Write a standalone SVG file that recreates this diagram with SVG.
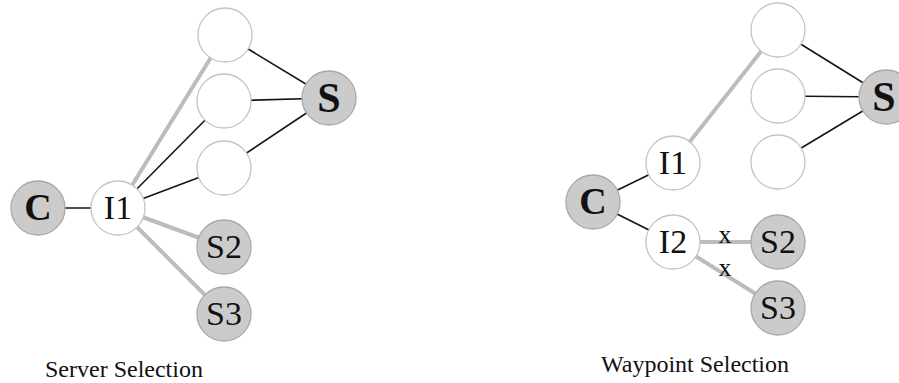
<svg xmlns="http://www.w3.org/2000/svg" width="899" height="383" viewBox="0 0 899 383">
<style>
.w{fill:#fff;stroke:#c4c4c4;stroke-width:1.3}
.g{fill:#cbcbcb;stroke:#a8a8a8;stroke-width:1.3}
.blk{stroke:#151515;stroke-width:1.6;fill:none}
.gry{stroke:#bcbcbc;stroke-width:4;fill:none}
text{font-family:"Liberation Serif","Times New Roman",serif;fill:#111;text-anchor:middle}
.lbl{font-size:34px}
.bS{font-size:42px;font-weight:bold}
.bC{font-size:38px;font-weight:bold}
.cap{font-size:24px;text-anchor:start}
.x{font-size:26px}
</style>
<rect width="899" height="383" fill="#fff"/>
<g id="connectors">
<line class="blk" x1="38" y1="208" x2="118" y2="208"/>
<line class="gry" x1="118" y1="208" x2="218" y2="46"/>
<line class="blk" x1="118" y1="208" x2="224" y2="101"/>
<line class="blk" x1="118" y1="208" x2="224" y2="168"/>
<line class="blk" x1="225" y1="35" x2="329" y2="98"/>
<line class="blk" x1="224" y1="101" x2="329" y2="98"/>
<line class="blk" x1="224" y1="168" x2="329" y2="98"/>
<line class="gry" x1="118" y1="208" x2="224" y2="247"/>
<line class="gry" x1="118" y1="208" x2="224" y2="314"/>
<line class="blk" x1="593" y1="202" x2="673" y2="163"/>
<line class="blk" x1="593" y1="202" x2="673" y2="242"/>
<line class="gry" x1="673" y1="163" x2="770" y2="40"/>
<line class="blk" x1="778" y1="30" x2="886" y2="97"/>
<line class="blk" x1="778" y1="96" x2="886" y2="97"/>
<line class="blk" x1="778" y1="162" x2="886" y2="97"/>
<line class="gry" x1="673" y1="242" x2="778" y2="242"/>
<line class="gry" x1="673" y1="242" x2="778" y2="308"/>
</g>
<g id="left-top"><circle class="w" cx="225" cy="35" r="27"/></g>
<g id="left-mid"><circle class="w" cx="224" cy="101" r="27"/></g>
<g id="left-low"><circle class="w" cx="224" cy="168" r="27"/></g>
<g id="left-S"><circle class="g" cx="329" cy="98" r="27"/><text class="bS" x="329" y="112">S</text></g>
<g id="left-C"><circle class="g" cx="38" cy="208" r="27"/><text class="bC" x="38" y="220">C</text></g>
<g id="left-I1"><circle class="w" cx="118" cy="208" r="27"/><text class="lbl" x="118" y="219">I1</text></g>
<g id="left-S2"><circle class="g" cx="224" cy="247" r="27"/><text class="lbl" x="224" y="258">S2</text></g>
<g id="left-S3"><circle class="g" cx="224" cy="314" r="27"/><text class="lbl" x="224" y="325">S3</text></g>
<g id="right-top"><circle class="w" cx="778" cy="30" r="27"/></g>
<g id="right-mid"><circle class="w" cx="778" cy="96" r="27"/></g>
<g id="right-low"><circle class="w" cx="778" cy="162" r="27"/></g>
<g id="right-S"><circle class="g" cx="886" cy="97" r="27"/><text class="bS" x="884" y="111">S</text></g>
<g id="right-C"><circle class="g" cx="593" cy="202" r="27"/><text class="bC" x="593" y="214">C</text></g>
<g id="right-I1"><circle class="w" cx="673" cy="163" r="27"/><text class="lbl" x="673" y="174">I1</text></g>
<g id="right-I2"><circle class="w" cx="673" cy="242" r="27"/><text class="lbl" x="673" y="253">I2</text></g>
<g id="right-S2"><circle class="g" cx="778" cy="242" r="27"/><text class="lbl" x="778" y="253">S2</text></g>
<g id="right-S3"><circle class="g" cx="778" cy="308" r="27"/><text class="lbl" x="778" y="319">S3</text></g>
<text class="x" x="725" y="243">x</text>
<text class="x" x="725" y="276">x</text>
<text class="cap" x="45" y="377">Server Selection</text>
<text class="cap" x="601" y="372">Waypoint Selection</text>
</svg>
